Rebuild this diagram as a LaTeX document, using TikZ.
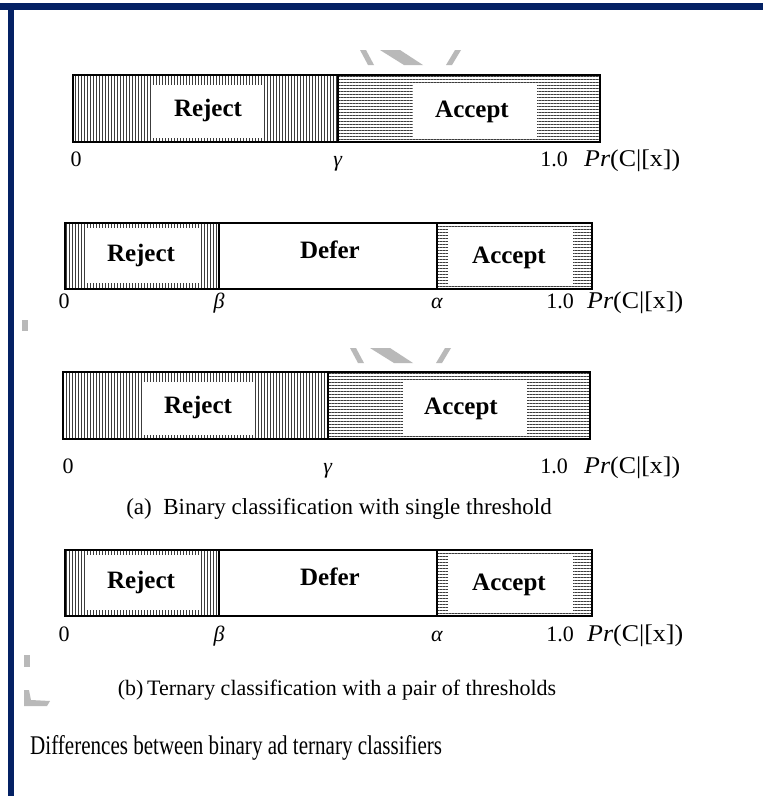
\documentclass[tikz,border=0pt]{standalone}
\usepackage{fontspec}
\setmainfont{Liberation Serif}
\usetikzlibrary{patterns.meta}
\definecolor{navy}{RGB}{4,33,100}
\definecolor{hatchc}{RGB}{60,60,60}
\definecolor{wmgray}{RGB}{185,185,185}
\newcommand{\prlabel}{\scalebox{1.08}[1]{\textit{Pr}(C|[x])}}
\tikzset{
  vhatch/.style={pattern={Lines[angle=90,distance=3pt,line width=0.9pt]},pattern color=hatchc},
  hhatch/.style={pattern={Lines[angle=0,distance=3pt,line width=0.9pt]},pattern color=hatchc},
  frame/.style={draw=black,line width=1.4pt},
  divider/.style={draw=black,line width=1.1pt},
  boxlabel/.style={font=\fontsize{25}{28}\selectfont\bfseries,inner sep=0pt,anchor=base},
  axlabel/.style={font=\fontsize{22}{26}\selectfont,inner sep=0pt,anchor=base},
  prtext/.style={font=\fontsize{24}{27}\selectfont,inner sep=0pt,anchor=base west},
  captext/.style={font=\fontsize{23}{27}\selectfont,inner sep=0pt,anchor=base},
  wm/.style={fill=wmgray,draw=none}
}
\begin{document}
\begin{tikzpicture}[x=1pt,y=-1pt]
\useasboundingbox (0,0) rectangle (763,796);
\fill[white] (0,0) rectangle (763,796);
% page border
\fill[navy] (0,3) rectangle (763,10);
\fill[navy] (8,3) rectangle (14,796);

% watermark fragments
\foreach \dx/\dy in {0/0,-10/298}{
  \begin{scope}[shift={(\dx,\dy)}]
    \fill[wm] (360,50) -- (366,50) -- (374,65) -- (368,65) -- cycle;
    \fill[wm] (380,50) -- (400,50) -- (423,65) -- (404,65) -- cycle;
    \fill[wm] (455,50) -- (461,50) -- (452,65) -- (446,65) -- cycle;
  \end{scope}
}
\fill[wm] (22,320) rectangle (28,331);
\fill[wm] (24,655) rectangle (30,667);
\fill[wm] (24,690) -- (29,690) -- (31,700) -- (50,701) -- (47,706) -- (24,706) -- cycle;

% ---------- bar 1 : binary ----------
\fill[vhatch] (73,75) rectangle (338,142);
\fill[hhatch] (338,75) rectangle (600,142);
\fill[white] (152,85) rectangle (264,138);
\fill[white] (413,85) rectangle (537,138);
\draw[frame] (73,75) rectangle (600,142);
\draw[divider] (338,75) -- (338,142);
\node[boxlabel] (rej1) at (208,116) {Reject};
\node[boxlabel] (acc1) at (472,117) {Accept};
\node[axlabel] (zero1) at (76,166) {0};
\node[axlabel] (gam1) at (338,166) {\textit{γ}};
\node[axlabel] (one1) at (554,166) {1.0};
\node[prtext] (pr1) at (584,166) {\prlabel};

% ---------- bar 2 : ternary ----------
\fill[vhatch] (65,223) rectangle (219,289);
\fill[hhatch] (437,223) rectangle (592,289);
\fill[white] (86,228) rectangle (199,283);
\fill[white] (448,228) rectangle (573,285);
\draw[frame] (65,223) rectangle (592,289);
\draw[divider] (219,223) -- (219,289);
\draw[divider] (437,223) -- (437,289);
\node[boxlabel] (rej2) at (141,261) {Reject};
\node[boxlabel] (def2) at (330,258) {Defer};
\node[boxlabel] (acc2) at (509,263) {Accept};
\node[axlabel] (zero2) at (64,308) {0};
\node[axlabel] (bet2) at (219,308) {\textit{β}};
\node[axlabel] (alp2) at (437,308) {\textit{α}};
\node[axlabel] (one2) at (560,308) {1.0};
\node[prtext] (pr2) at (587,308) {\prlabel};

% ---------- bar 3 : binary ----------
\fill[vhatch] (63,372) rectangle (328,439);
\fill[hhatch] (328,372) rectangle (590,439);
\fill[white] (142,382) rectangle (255,435);
\fill[white] (403,382) rectangle (527,435);
\draw[frame] (63,372) rectangle (590,439);
\draw[divider] (328,372) -- (328,439);
\node[boxlabel] (rej3) at (198,413) {Reject};
\node[boxlabel] (acc3) at (461,414) {Accept};
\node[axlabel] (zero3) at (68,473) {0};
\node[axlabel] (gam3) at (328,473) {\textit{γ}};
\node[axlabel] (one3) at (554,473) {1.0};
\node[prtext] (pr3) at (584,473) {\prlabel};
\node[captext] (capa) at (339,514) {(a)\ \ Binary classification with single threshold};

% ---------- bar 4 : ternary ----------
\fill[vhatch] (65,550) rectangle (219,616);
\fill[hhatch] (437,550) rectangle (592,616);
\fill[white] (86,555) rectangle (199,610);
\fill[white] (448,555) rectangle (573,612);
\draw[frame] (65,550) rectangle (592,616);
\draw[divider] (219,550) -- (219,616);
\draw[divider] (437,550) -- (437,616);
\node[boxlabel] (rej4) at (141,588) {Reject};
\node[boxlabel] (def4) at (330,585) {Defer};
\node[boxlabel] (acc4) at (509,590) {Accept};
\node[axlabel] (zero4) at (64,641) {0};
\node[axlabel] (bet4) at (219,641) {\textit{β}};
\node[axlabel] (alp4) at (437,641) {\textit{α}};
\node[axlabel] (one4) at (560,641) {1.0};
\node[prtext] (pr4) at (587,641) {\prlabel};
\node[captext,font=\fontsize{22}{26}\selectfont] (capb) at (337,695) {(b)\,Ternary classification with a pair of thresholds};

% ---------- figure caption ----------
\node[inner sep=0pt,anchor=base west,font=\fontsize{27}{30}\selectfont] (figcap) at (30,754) {\scalebox{0.78}[1]{Differences between binary ad ternary classifiers}};
\end{tikzpicture}
\end{document}
